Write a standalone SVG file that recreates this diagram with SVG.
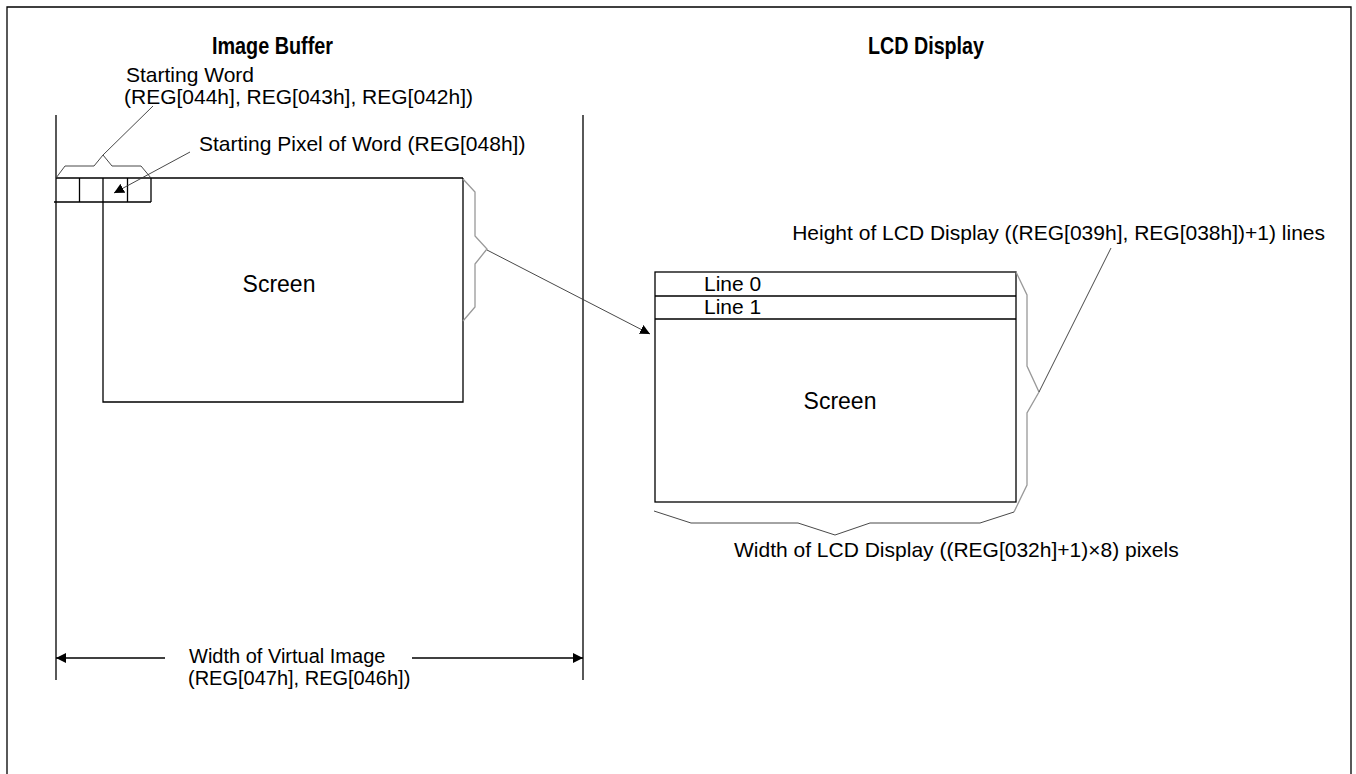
<svg xmlns="http://www.w3.org/2000/svg" width="1356" height="774" viewBox="0 0 1356 774">
<style>
text{font-family:"Liberation Sans",Arial,sans-serif;font-size:21px;fill:#000}
.title{font-weight:bold;font-size:24px}
.big{font-size:23px}
.mid{font-size:20px}
.ln{stroke:#000;stroke-width:1.3;fill:none}
.thin{stroke:#333;stroke-width:0.9;fill:none}
.gray{stroke:#999;stroke-width:1.3;fill:none}
</style>
<defs>
<marker id="ah" viewBox="0 0 10 10" refX="10" refY="5" markerWidth="10" markerHeight="10" markerUnits="userSpaceOnUse" orient="auto">
<path d="M0,0 L10,5 L0,10 z" fill="#000"/>
</marker>
</defs>
<rect width="1356" height="774" fill="#fff"/>
<path class="ln" d="M7,774 V7 H1351 V774"/>
<text class="title" x="212" y="54" textLength="121" lengthAdjust="spacingAndGlyphs">Image Buffer</text>
<text class="title" x="868" y="54" textLength="116" lengthAdjust="spacingAndGlyphs">LCD Display</text>
<g id="image-buffer">
<path class="ln" d="M56,115 V680 M583,115 V680"/>
</g>
<g id="word-cells">
<path class="ln" d="M56,178 H463 M54,202 H151 M79.5,178 V202 M127.5,178 V202 M151,178 V202"/>
</g>
<g id="screen-left">
<path class="ln" d="M103,178 V402 H463 V178"/>
<text class="big" x="279" y="292" text-anchor="middle">Screen</text>
</g>
<g id="lcd">
<rect class="ln" x="655" y="272" width="361" height="230"/>
<path class="ln" d="M655,296 H1016 M655,319 H1016"/>
<text x="704" y="291">Line 0</text>
<text x="704" y="314">Line 1</text>
<text class="big" x="840" y="409" text-anchor="middle">Screen</text>
</g>
<g id="labels">
<text x="126" y="82">Starting Word</text>
<text x="124" y="104">(REG[044h], REG[043h], REG[042h])</text>
<text x="199" y="151">Starting Pixel of Word (REG[048h])</text>
<text x="1325" y="240" text-anchor="end">Height of LCD Display ((REG[039h], REG[038h])+1) lines</text>
<text x="734" y="557">Width of LCD Display ((REG[032h]+1)×8) pixels</text>
<text class="mid" x="189" y="663">Width of Virtual Image</text>
<text class="mid" x="188" y="685">(REG[047h], REG[046h])</text>
</g>
<g id="connectors">
<path class="thin" d="M56,178 L65,166 H94 L103,155 L112,166 H141 L151,178"/>
<path class="thin" d="M103,155 L153,106"/>
<path class="thin" d="M190,152 L114,193" marker-end="url(#ah)"/>
<path class="gray" d="M463,179 L475,192 V236 L487,249 L475,264 V307 L463,321"/>
<path class="thin" d="M487,250 L650,334" marker-end="url(#ah)"/>
<path class="gray" d="M1016,272 L1027,295 V366 L1039,392 L1027,413 V485 L1014,512"/>
<path class="thin" d="M1039,392 L1111,248"/>
<path class="thin" d="M654,511 L691,523 H798 L835,535 L870,523 H980 L1014,512"/>
<path class="ln" d="M165,658 H56" marker-end="url(#ah)"/>
<path class="ln" d="M412,658 H583" marker-end="url(#ah)"/>
</g>
</svg>
